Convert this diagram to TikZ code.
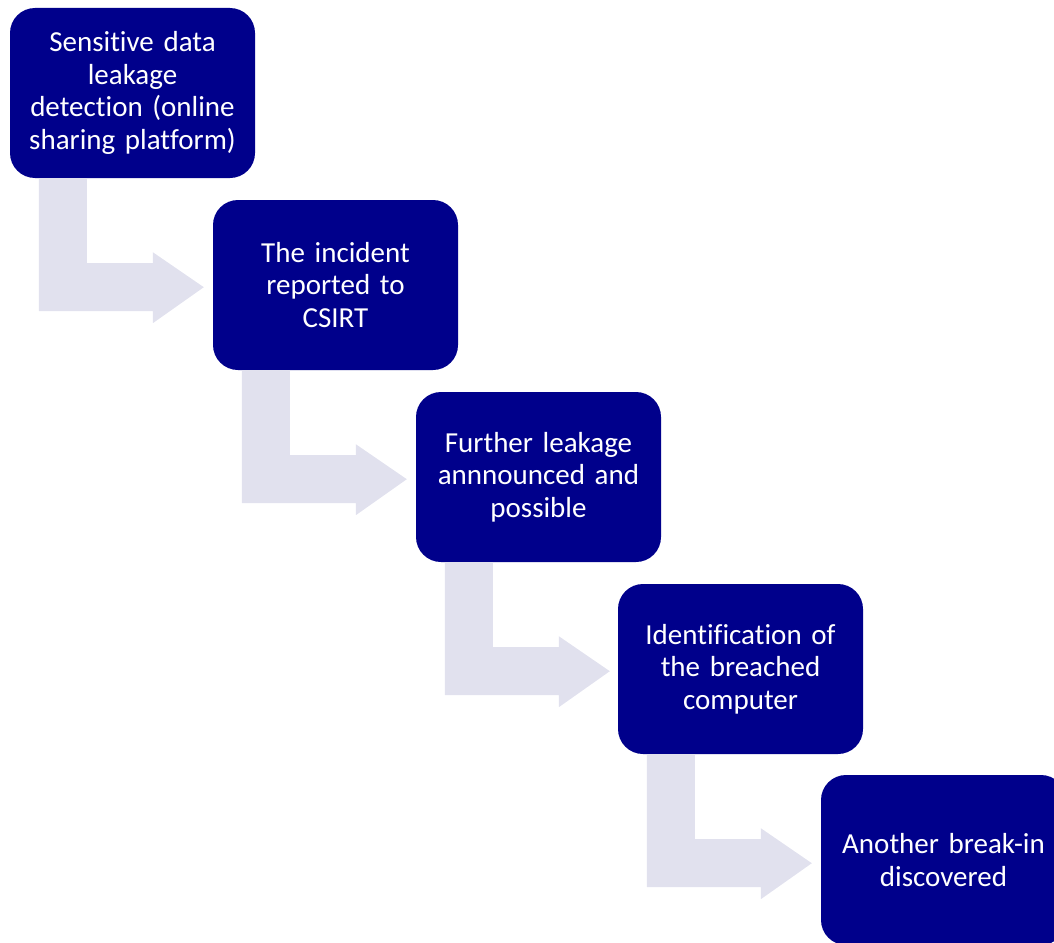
\documentclass[tikz,border=0pt]{standalone}
\usepackage{fontspec}
\setmainfont{Carlito}[Ligatures=CommonOff,WordSpace=0.7]
\usetikzlibrary{calc}
\definecolor{boxnavy}{RGB}{0,0,139}
\definecolor{arrowgrey}{RGB}{225,225,238}
\tikzset{
  stepbox/.style={fill=boxnavy,draw=none,rounded corners=25pt,minimum width=245pt,minimum height=170pt,
    text width=235pt,align=center,text=white,font=\fontsize{29}{32.5}\selectfont,inner sep=0pt},
  flowarrow/.style={fill=arrowgrey,draw=none}
}
\begin{document}
\begin{tikzpicture}[x=1pt,y=-1pt]
  \clip (0,0) rectangle (1054,942);
  % Kasten
  \node[stepbox] (b1) at (132.5,93) {Sensitive data\\leakage\\detection (online\\sharing platform)};
  \node[stepbox] (b2) at (335.5,285) {The incident\\reported to\\CSIRT};
  \node[stepbox] (b3) at (538.5,477) {Further leakage\\annnounced and\\possible};
  \node[stepbox] (b4) at (740.5,669) {Identification of\\the breached\\computer};
  \node[stepbox] (b5) at (943.5,860) {Another break-in\\discovered};

  % Pfeile
  \foreach \i in {1,2,3,4}
    \fill[flowarrow] ($(b\i.south west)+(29,0)$) -- ($(b\i.south west)+(77,0)$)
      -- ($(b\i.south west)+(77,85)$) -- ($(b\i.south west)+(143,85)$)
      -- ($(b\i.south west)+(143,74)$) -- ($(b\i.south west)+(194,109)$)
      -- ($(b\i.south west)+(143,145)$) -- ($(b\i.south west)+(143,133)$)
      -- ($(b\i.south west)+(29,133)$) -- cycle;
\end{tikzpicture}
\end{document}
